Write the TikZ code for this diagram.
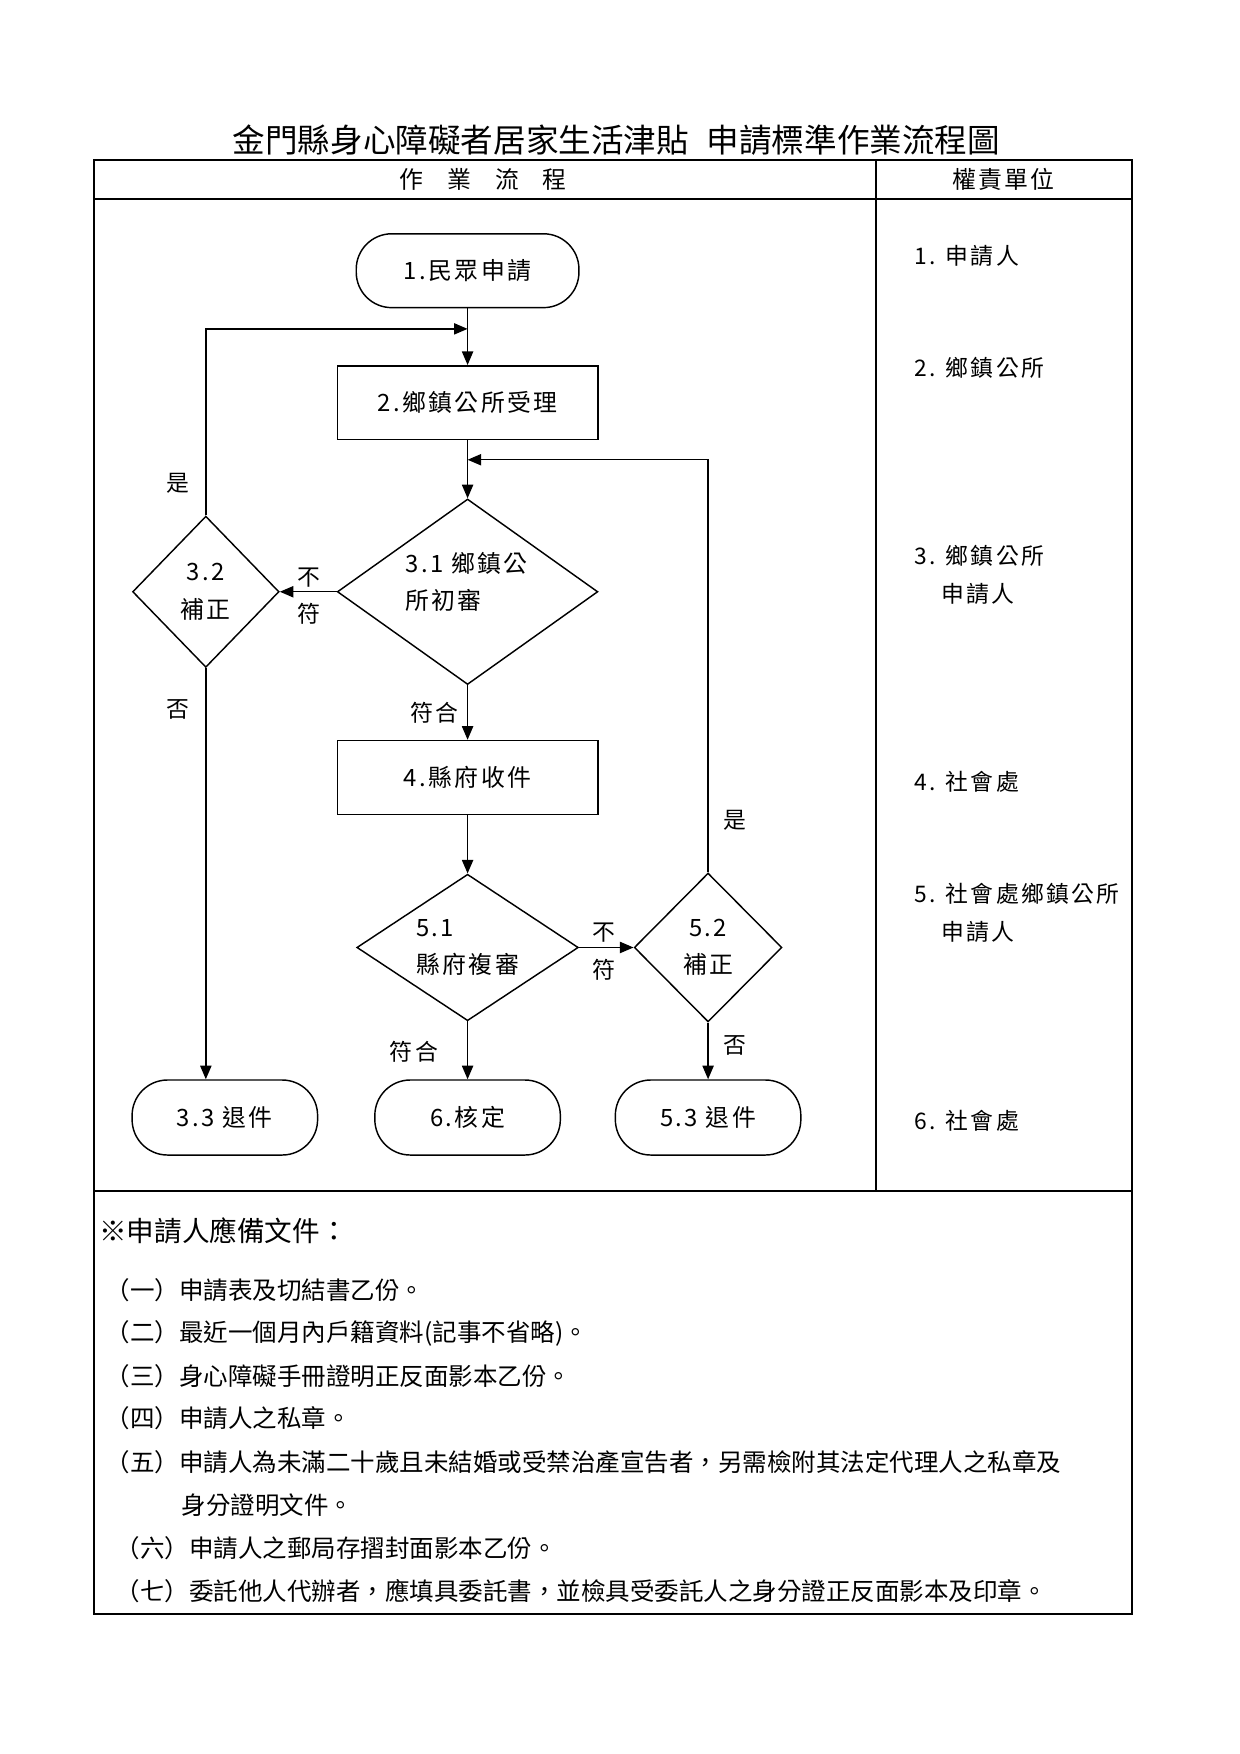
\documentclass[tikz,border=0pt]{standalone}
\usepackage{fontspec}
\setmainfont{Noto Sans CJK TC}
\newfontfamily\flowfont[LetterSpace=10]{Noto Sans CJK TC}
\usepackage{tikz}
\usetikzlibrary{arrows.meta,shapes.geometric}

\begin{document}
\begin{tikzpicture}[x=0.018941cm,y=-0.018941cm,>={Triangle[length=2.3mm,width=1.9mm]},line width=0.7pt,
        proc/.style={draw,rectangle,minimum width=4.41cm,minimum height=1.25cm,inner sep=0pt,font=\flowfont\fontsize{11.5}{18}\selectfont},
        term/.style={proc,minimum width=3.14cm,minimum height=1.27cm,rounded corners=0.6cm},
        decide/.style={draw,diamond,aspect=1.3,inner sep=0pt,align=center,font=\flowfont\fontsize{11.5}{18}\selectfont},
        tag/.style={inner sep=0pt,font=\flowfont\fontsize{11}{18}\selectfont},
        duty/.style={anchor=west,inner sep=0pt,align=left,font=\flowfont\fontsize{11}{18.3}\selectfont},
        doc/.style={anchor=west,inner sep=0pt,font=\fontsize{11.8}{14}\selectfont}]
        \useasboundingbox (0,0) rectangle (1108.5,1568);
        \node[font=\fontsize{15.7}{18}\selectfont] (title) at (551,125) {金門縣身心障礙者居家生活津貼\hspace{0.3cm}申請標準作業流程圖};
        \draw[line width=0.9pt] (84,143) rectangle (1012,1443);
        \draw[line width=0.9pt] (84,178) -- (1012,178) (84,1065) -- (1012,1065) (783,143) -- (783,1065);
        \node[font=\fontsize{11.5}{14}\selectfont] (colflow) at (432,160) {作　業　流　程};
        \node[font=\flowfont\fontsize{11.5}{14}\selectfont] (colduty) at (897,160) {權責單位};

        \node[term,minimum width=3.77cm,minimum height=1.25cm] (t1) at (418,242) {1.民眾申請};
        \node[proc] (b2) at (418,360) {2.鄉鎮公所受理};
        \node[decide,minimum width=4.41cm,minimum height=3.14cm] (d31) at (418,529) {};
        \node[tag,align=left,font=\flowfont\fontsize{11.5}{18}\selectfont] (d31txt) at (417,520) {3.1 鄉鎮公\\所初審};
        \node[decide,minimum width=2.48cm,minimum height=2.56cm] (d32) at (184,529) {3.2\\補正};
        \node[proc] (b4) at (418,695) {4.縣府收件};
        \node[decide,align=left,minimum width=3.75cm,minimum height=2.48cm] (d51) at (418,847) {5.1\\縣府複審};
        \node[decide,minimum width=2.5cm,minimum height=2.52cm] (d52) at (633,847) {5.2\\補正};
        \node[term] (t33) at (201,999) {3.3 退件};
        \node[term] (t6) at (418,999) {6.核定};
        \node[term] (t53) at (633,999) {5.3 退件};

        \coordinate (j1) at (418,294);
        \coordinate (j2) at (418,411);
        \draw[->] (t1) -- (b2);
        \draw[->] (b2) -- (d31);
        \draw[->] (d31) -- (b4);
        \draw[->] (b4) -- (d51);
        \draw[->] (d51) -- (t6);
        \draw[->] (d52) -- (t53);
        \draw[->] (d31) -- (d32);
        \draw[->] (d51) -- (d52);
        \draw[->] (d32.north) |- (j1);
        \draw[->] (d52.north) |- (j2);
        \draw[->] (d32.south) -- (d32.south |- t33.north);

        \node[tag] (yes1) at (159,432) {是};
        \node[tag] (no1) at (159,634) {否};
        \node[tag] (nota) at (276,516) {不};
        \node[tag] (notb) at (276,549) {符};
        \node[tag] (ok1) at (388,637) {符合};
        \node[tag] (notc) at (540,834) {不};
        \node[tag] (notd) at (540,867) {符};
        \node[tag] (yes2) at (657,733) {是};
        \node[tag] (no2) at (657,935) {否};
        \node[tag] (ok2) at (370,940) {符合};

        \node[duty] (r1) at (817,229) {1. 申請人};
        \node[duty] (r2) at (817,329) {2. 鄉鎮公所};
        \node[duty] (r3) at (817,514) {3. 鄉鎮公所\\\hspace*{0.45cm}申請人};
        \node[duty] (r4) at (817,699) {4. 社會處};
        \node[duty] (r5) at (817,816) {5. 社會處鄉鎮公所\\\hspace*{0.45cm}申請人};
        \node[duty] (r6) at (817,1002) {6. 社會處};

        \node[doc,font=\fontsize{13.3}{16}\selectfont] (need) at (88,1100) {※申請人應備文件：};
        \node[doc] (i1) at (94,1153) {（一）申請表及切結書乙份。};
        \node[doc] (i2) at (94,1192) {（二）最近一個月內戶籍資料(記事不省略)。};
        \node[doc] (i3) at (94,1230) {（三）身心障礙手冊證明正反面影本乙份。};
        \node[doc] (i4) at (94,1268) {（四）申請人之私章。};
        \node[doc] (i5) at (94,1307) {（五）申請人為未滿二十歲且未結婚或受禁治產宣告者，另需檢附其法定代理人之私章及};
        \node[doc] (i5b) at (162,1346) {身分證明文件。};
        \node[doc] (i6) at (103,1384) {（六）申請人之郵局存摺封面影本乙份。};
        \node[doc] (i7) at (103,1422) {（七）委託他人代辦者，應填具委託書，並檢具受委託人之身分證正反面影本及印章。};
\end{tikzpicture}
\end{document}
